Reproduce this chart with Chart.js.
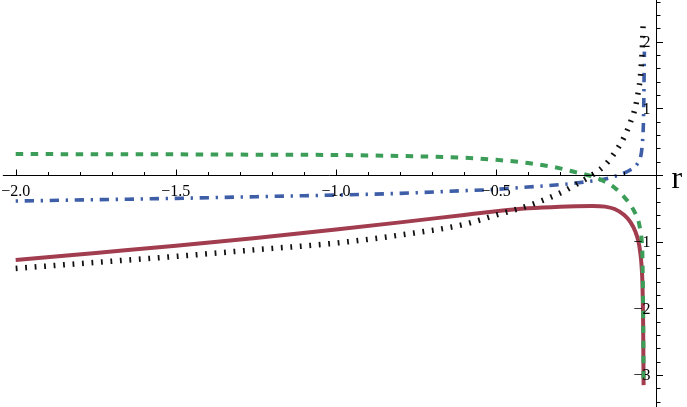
<!DOCTYPE html>
<html lang="en">
<head>
<meta charset="utf-8"/>
<title>Curves in r</title>
<script src="https://cdn.jsdelivr.net/npm/chart.js@4/dist/chart.umd.min.js"></script>
<style>
  html, body { margin: 0; padding: 0; background: #fff; }
  #wrap { width: 687px; height: 407px; position: relative; }
</style>
</head>
<body>
<div id="wrap"><canvas id="myChart"></canvas></div>
<script>
  // sample points along r (denser near the pole at r ~ -0.04)
  const rGrid = [-2.0, -1.75, -1.5, -1.25, -1.0, -0.8, -0.6, -0.5, -0.4, -0.3, -0.25, -0.2,
                 -0.16, -0.13, -0.1, -0.08, -0.065, -0.055, -0.05, -0.046, -0.043, -0.041, -0.0395, -0.037];

  const redSolid   = [-1.274, -1.168, -1.062, -0.943, -0.817, -0.71, -0.598, -0.543, -0.50, -0.474, -0.467, -0.464,
                      -0.474, -0.51, -0.6, -0.71, -0.85, -1.01, -1.16, -1.35, -1.65, -2.2, -3.15, null];
  const greenDashed = [0.315, 0.312, 0.31, 0.305, 0.30, 0.285, 0.26, 0.228, 0.18, 0.10, 0.04, -0.02,
                      -0.1, -0.19, -0.33, -0.45, -0.58, -0.70, -0.82, -0.95, -1.25, -2.0, -3.15, null];
  const blueDashDot = [-0.39, -0.37, -0.35, -0.325, -0.30, -0.275, -0.235, -0.215, -0.18, -0.145, -0.12, -0.09,
                      -0.06, -0.02, 0.03, 0.08, 0.13, 0.2, 0.25, 0.35, 0.5, 0.65, 0.9, 1.85];
  const blackDotted = [-1.40, -1.31, -1.22, -1.12, -1.02, -0.9, -0.74, -0.6, -0.46, -0.27, -0.14, 0.0,
                      0.15, 0.33, 0.57, 0.8, 1.02, 1.28, 1.45, 1.7, 1.95, 2.25, null, null];

  const xMajorTicks = [-2.0, -1.5, -1.0, -0.5];
  const xTickLabels = ["\u22122.0", "\u22121.5", "\u22121.0", "\u22120.5"];
  const yMajorTicks = [-3, -2, -1, 1, 2];
  const yTickLabels = ["\u22123", "\u22122", "\u22121", "1", "2"];

  function pts(vals) {
    return rGrid.map((r, i) => ({ x: r, y: vals[i] })).filter(p => p.y !== null);
  }

  // Mathematica-like axes crossing at the origin, drawn on top of the curves
  const originAxes = {
    id: "originAxes",
    afterDatasetsDraw(chart) {
      const { ctx, chartArea, scales: { x, y } } = chart;
      const px0 = Math.round(x.getPixelForValue(0)) + 0.5;
      const py0 = Math.round(y.getPixelForValue(0)) + 0.5;
      ctx.save();
      ctx.strokeStyle = "#000";
      ctx.lineWidth = 1;
      ctx.beginPath();
      ctx.moveTo(x.getPixelForValue(-2.04), py0);
      ctx.lineTo(px0, py0);
      ctx.moveTo(px0, chartArea.top);
      ctx.lineTo(px0, chartArea.bottom);
      // x ticks point up
      for (let k = -20; k <= -1; k++) {
        const px = Math.round(x.getPixelForValue(k / 10)) + 0.5;
        const len = (k % 5 === 0) ? 6 : 3.5;
        ctx.moveTo(px, py0);
        ctx.lineTo(px, py0 - len);
      }
      // y ticks point right
      for (let k = -17; k <= 13; k++) {
        const py = Math.round(y.getPixelForValue(k / 5)) + 0.5;
        const len = (k % 5 === 0) ? 6.5 : 4;
        ctx.moveTo(px0, py);
        ctx.lineTo(px0 + len, py);
      }
      ctx.stroke();

      ctx.fillStyle = "#000";
      ctx.font = "16px 'Liberation Serif', 'DejaVu Serif', serif";
      ctx.textAlign = "center";
      ctx.textBaseline = "top";
      xMajorTicks.forEach((v, i) => {
        ctx.fillText(xTickLabels[i], x.getPixelForValue(v), py0 + 8);
      });
      ctx.textAlign = "right";
      ctx.textBaseline = "middle";
      yMajorTicks.forEach((v, i) => {
        ctx.fillText(yTickLabels[i], px0 - 6, y.getPixelForValue(v) + 1);
      });
      ctx.textAlign = "left";
      ctx.textBaseline = "alphabetic";
      ctx.font = "32px 'Liberation Serif', 'DejaVu Serif', serif";
      ctx.fillText("r", px0 + 15, py0 + 12);
      ctx.restore();
    }
  };

  new Chart(document.getElementById("myChart"), {
    type: "line",
    data: {
      datasets: [
        { data: pts(greenDashed), borderColor: "#3b9d57", borderWidth: 4,
          borderDash: [7.5, 7.5], order: 1 },
        { data: pts(blackDotted), borderColor: "#111111", borderWidth: 5.5,
          borderDash: [1.8, 7.7], order: 2 },
        { data: pts(blueDashDot), borderColor: "#3e5ea8", borderWidth: 3.6,
          borderDash: [2.3, 6.7, 9.3, 6.7], order: 3 },
        { data: pts(redSolid), borderColor: "#a13d4f", borderWidth: 4, order: 4 }
      ]
    },
    options: {
      animation: false,
      responsive: true,
      maintainAspectRatio: false,
      layout: { padding: 0 },
      datasets: {
        line: { fill: false, pointRadius: 0, borderCapStyle: "butt",
                cubicInterpolationMode: "monotone" }
      },
      plugins: { legend: { display: false }, tooltip: { enabled: false } },
      scales: {
        x: { type: "linear", min: -2.049, max: 0.096, display: false },
        y: { type: "linear", min: -3.478, max: 2.624, display: false }
      }
    },
    plugins: [originAxes]
  });
</script>
</body>
</html>
